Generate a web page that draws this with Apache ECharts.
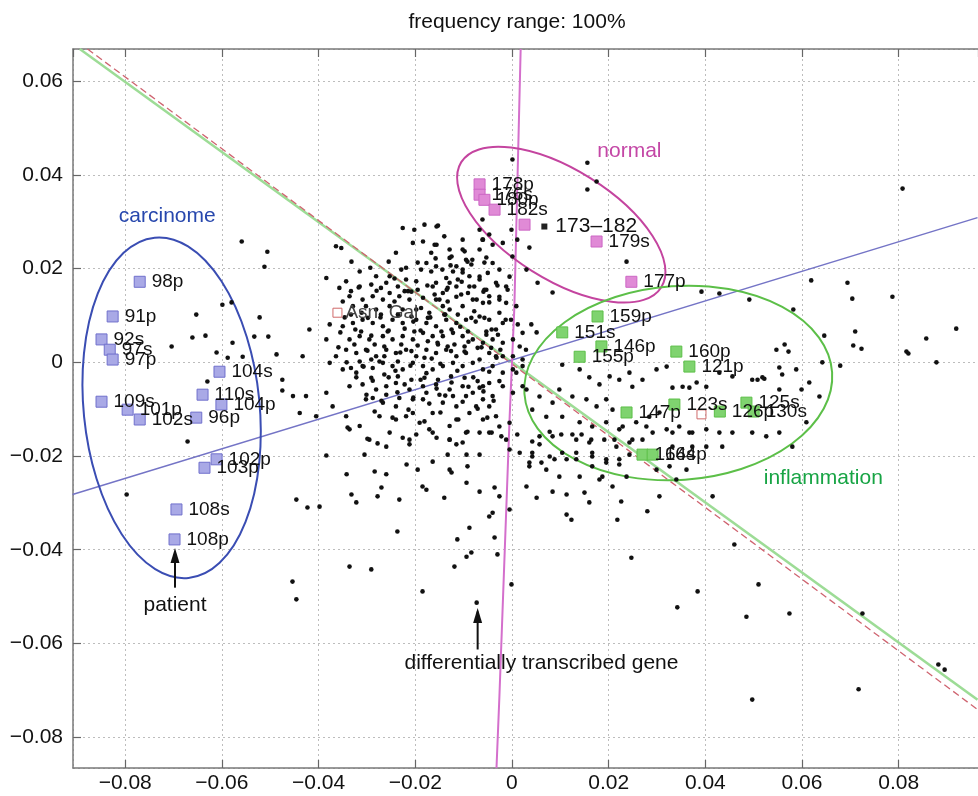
<!DOCTYPE html>
<html><head><meta charset="utf-8">
<script src="https://cdn.jsdelivr.net/npm/echarts@6/dist/echarts.min.js"></script>
<style>html,body{margin:0;padding:0;background:#fff}#c{width:978px;height:796px}</style>
</head><body><div id="c"></div>
<script>
// ---------- axis ranges ----------
const xRange = [-0.0908, 0.0964];
const yRange = [-0.0866, 0.0669];

// ---------- gene dots (black) ----------
const dotsLeft = [[-0.0559,0.0258],[-0.0506,0.0236],[-0.0512,0.0204],[-0.0599,0.0123],[-0.0580,0.0128],[-0.0653,0.0102],[-0.0522,0.0096],[-0.0661,0.0053],[-0.0634,0.0057],[-0.0578,0.0042],[-0.0533,0.0055],[-0.0504,0.0055],[-0.0704,0.0034],[-0.0611,0.0021],[-0.0588,0.0010],[-0.0557,0.0012],[-0.0487,0.0017],[-0.0630,-0.0041],[-0.0475,-0.0037],[-0.0475,-0.0060],[-0.0671,-0.0169],[-0.0797,-0.0282],[-0.0446,-0.0293],[-0.0446,-0.0506],[-0.0454,-0.0468]];

const dotsCloudA = [[-0.0226,0.0287],[-0.0202,0.0283],[-0.0181,0.0294],[-0.0153,0.0292],[-0.0205,0.0255],[-0.0184,0.0258],[-0.0160,0.0251],[-0.0129,0.0241],[-0.0098,0.0237],[-0.0067,0.0241],[-0.0240,0.0234],[-0.0129,0.0223],[-0.0115,0.0205],[-0.0060,0.0262],[-0.0047,0.0273],[-0.0019,0.0255],[-0.0364,0.0248],[-0.0353,0.0244],[-0.0384,0.0180],[-0.0343,0.0173],[-0.0315,0.0194],[-0.0281,0.0184],[-0.0260,0.0170],[-0.0236,0.0162],[-0.0219,0.0177],[-0.0198,0.0173],[-0.0177,0.0212],[-0.0167,0.0194],[-0.0157,0.0170],[-0.0136,0.0180],[-0.0122,0.0194],[-0.0102,0.0198],[-0.0088,0.0184],[-0.0067,0.0177],[-0.0050,0.0191],[-0.0033,0.0170],[-0.0012,0.0162],[-0.0115,0.0162],[-0.0143,0.0148],[-0.0157,0.0134],[-0.0184,0.0138],[-0.0212,0.0134],[-0.0233,0.0141],[-0.0253,0.0148],[-0.0267,0.0134],[-0.0288,0.0141],[-0.0309,0.0134],[-0.0336,0.0141],[-0.0350,0.0130],[-0.0329,0.0120],[-0.0302,0.0120],[-0.0281,0.0113],[-0.0253,0.0120],[-0.0226,0.0113],[-0.0198,0.0113],[-0.0171,0.0106],[-0.0143,0.0120],[-0.0129,0.0113],[-0.0102,0.0120],[-0.0081,0.0134],[-0.0060,0.0127],[-0.0047,0.0141],[-0.0026,0.0106],[-0.0012,0.0127],[0.0009,0.0120],[-0.0019,0.0084],[-0.0033,0.0070],[-0.0047,0.0091],[-0.0067,0.0098],[-0.0095,0.0091],[-0.0115,0.0084],[-0.0136,0.0091],[-0.0157,0.0077],[-0.0177,0.0084],[-0.0198,0.0091],[-0.0226,0.0084],[-0.0247,0.0091],[-0.0267,0.0077],[-0.0288,0.0084],[-0.0309,0.0091],[-0.0329,0.0084],[-0.0350,0.0077],[-0.0377,0.0081],[-0.0384,0.0049],[-0.0419,0.0070],[-0.0433,0.0013],[-0.0336,0.0049],[-0.0315,0.0056],[-0.0295,0.0049],[-0.0267,0.0056],[-0.0247,0.0049],[-0.0226,0.0056],[-0.0205,0.0049],[-0.0184,0.0063],[-0.0164,0.0056],[-0.0143,0.0056],[-0.0122,0.0063],[-0.0102,0.0056],[-0.0081,0.0049],[-0.0060,0.0042],[-0.0040,0.0049],[-0.0019,0.0042],[0.0002,0.0049],[0.0022,0.0063],[0.0029,0.0027],[0.0002,0.0013],[-0.0019,0.0013],[-0.0047,0.0020],[-0.0067,0.0006],[-0.0095,0.0020],[-0.0115,0.0013],[-0.0136,0.0027],[-0.0157,0.0020],[-0.0177,0.0027],[-0.0198,0.0013],[-0.0219,0.0027],[-0.0240,0.0020],[-0.0260,0.0027],[-0.0281,0.0013],[-0.0302,0.0027],[-0.0322,0.0020],[-0.0343,0.0027],[-0.0364,0.0013],[-0.0377,-0.0001],[-0.0350,-0.0015],[-0.0322,-0.0022],[-0.0309,-0.0008],[-0.0288,-0.0012],[-0.0267,-0.0001],[-0.0247,-0.0008],[-0.0226,-0.0015],[-0.0205,-0.0001],[-0.0184,-0.0008],[-0.0164,-0.0015],[-0.0143,-0.0008],[-0.0122,-0.0001],[-0.0102,-0.0008],[-0.0081,-0.0001],[-0.0060,-0.0015],[-0.0040,-0.0008],[-0.0019,-0.0022],[0.0002,-0.0015],[-0.0336,-0.0051],[-0.0309,-0.0047],[-0.0281,-0.0058],[-0.0260,-0.0051],[-0.0240,-0.0044],[-0.0212,-0.0058],[-0.0184,-0.0051],[-0.0157,-0.0047],[-0.0129,-0.0058],[-0.0102,-0.0051],[-0.0081,-0.0065],[-0.0060,-0.0079],[-0.0040,-0.0072],[-0.0019,-0.0051],[0.0002,-0.0065],[0.0022,-0.0051],[-0.0302,-0.0079],[-0.0267,-0.0086],[-0.0240,-0.0094],[-0.0205,-0.0108],[-0.0184,-0.0079],[-0.0143,-0.0086],[-0.0115,-0.0094],[-0.0088,-0.0108],[-0.0060,-0.0122],[-0.0033,-0.0115],[-0.0005,-0.0129],[-0.0315,-0.0136],[-0.0343,-0.0115],[-0.0371,-0.0094],[-0.0405,-0.0115],[-0.0439,-0.0108],[-0.0453,-0.0072],[-0.0426,-0.0072],[-0.0384,-0.0065],[-0.0336,-0.0143],[-0.0295,-0.0165],[-0.0253,-0.0150],[-0.0212,-0.0165],[-0.0171,-0.0143],[-0.0129,-0.0165],[-0.0095,-0.0150],[-0.0047,-0.0150],[-0.0012,-0.0165]];

const dotsCloudB = [[-0.0271,0.0159],[-0.0243,0.0130],[-0.0215,0.0152],[-0.0188,0.0116],[-0.0160,0.0145],[-0.0133,0.0130],[-0.0105,0.0145],[-0.0078,0.0109],[-0.0057,0.0095],[-0.0091,0.0066],[-0.0119,0.0038],[-0.0146,0.0066],[-0.0174,0.0045],[-0.0202,0.0066],[-0.0229,0.0038],[-0.0257,0.0066],[-0.0284,0.0038],[-0.0312,0.0066],[-0.0333,0.0102],[-0.0298,0.0095],[-0.0271,0.0102],[-0.0236,0.0102],[-0.0208,0.0098],[-0.0174,0.0095],[-0.0140,0.0102],[-0.0112,0.0102],[-0.0084,0.0095],[-0.0053,0.0066],[-0.0029,0.0059],[-0.0043,0.0031],[-0.0071,0.0031],[-0.0098,0.0034],[-0.0126,0.0024],[-0.0153,0.0038],[-0.0181,0.0010],[-0.0208,0.0024],[-0.0236,0.0002],[-0.0264,0.0013],[-0.0291,0.0006],[-0.0315,0.0002],[-0.0333,-0.0012],[-0.0291,-0.0033],[-0.0264,-0.0026],[-0.0236,-0.0030],[-0.0208,-0.0037],[-0.0181,-0.0033],[-0.0153,-0.0037],[-0.0126,-0.0030],[-0.0098,-0.0033],[-0.0071,-0.0040],[-0.0047,-0.0044],[-0.0026,-0.0040],[-0.0067,-0.0054],[-0.0095,-0.0072],[-0.0122,-0.0072],[-0.0150,-0.0069],[-0.0177,-0.0065],[-0.0205,-0.0079],[-0.0233,-0.0076],[-0.0260,-0.0069],[-0.0288,-0.0076],[-0.0219,-0.0115],[-0.0164,-0.0108],[-0.0115,-0.0122],[-0.0157,0.0205],[-0.0188,0.0198],[-0.0219,0.0202],[-0.0095,0.0219],[-0.0140,0.0269],[-0.0167,0.0234],[-0.0112,0.0177],[-0.0078,0.0162],[-0.0057,0.0155],[-0.0091,0.0148],[-0.0133,0.0159],[-0.0195,0.0155],[-0.0222,0.0152],[-0.0291,0.0166],[-0.0315,0.0162],[-0.0333,0.0152],[-0.0357,0.0159],[-0.0253,0.0184],[-0.0102,0.0262],[-0.0084,0.0209],[-0.0040,0.0212],[-0.0026,0.0134],[-0.0002,0.0091],[0.0012,0.0081],[0.0016,0.0034],[0.0009,-0.0022],[0.0022,-0.0008],[-0.0060,-0.0051],[-0.0033,0.0013],[-0.0129,-0.0136],[-0.0191,-0.0129],[-0.0240,-0.0122],[-0.0274,-0.0115],[-0.0074,-0.0094],[-0.0047,-0.0094]];

const dotsCore = [[-0.0332,0.0215],[-0.0293,0.0202],[-0.0255,0.0215],[-0.0229,0.0198],[-0.0195,0.0213],[-0.0158,0.0222],[-0.0127,0.0207],[-0.0092,0.0215],[-0.0053,0.0224],[-0.0317,0.0160],[-0.0280,0.0153],[-0.0243,0.0179],[-0.0208,0.0151],[-0.0175,0.0164],[-0.0135,0.0155],[-0.0104,0.0172],[-0.0059,0.0151],[-0.0030,0.0164],[-0.0346,0.0096],[-0.0311,0.0106],[-0.0272,0.0096],[-0.0235,0.0100],[-0.0204,0.0087],[-0.0169,0.0096],[-0.0138,0.0102],[-0.0107,0.0076],[-0.0075,0.0087],[-0.0042,0.0070],[-0.0013,0.0091],[-0.0355,0.0064],[-0.0324,0.0070],[-0.0291,0.0057],[-0.0255,0.0068],[-0.0222,0.0072],[-0.0189,0.0068],[-0.0154,0.0042],[-0.0125,0.0070],[-0.0090,0.0044],[-0.0053,0.0059],[-0.0024,0.0027],[-0.0359,0.0032],[-0.0326,0.0038],[-0.0299,0.0025],[-0.0264,0.0034],[-0.0231,0.0021],[-0.0195,0.0036],[-0.0166,0.0008],[-0.0133,0.0034],[-0.0098,0.0023],[-0.0063,0.0032],[-0.0032,0.0010],[-0.0342,0.0000],[-0.0307,-0.0009],[-0.0274,0.0002],[-0.0241,-0.0018],[-0.0210,-0.0007],[-0.0177,-0.0023],[-0.0148,-0.0003],[-0.0113,-0.0018],[-0.0080,-0.0032],[-0.0047,-0.0020],[-0.0322,-0.0032],[-0.0288,-0.0039],[-0.0255,-0.0032],[-0.0222,-0.0047],[-0.0189,-0.0037],[-0.0156,-0.0056],[-0.0125,-0.0043],[-0.0090,-0.0052],[-0.0059,-0.0062],[-0.0301,-0.0069],[-0.0270,-0.0082],[-0.0237,-0.0064],[-0.0204,-0.0075],[-0.0171,-0.0088],[-0.0138,-0.0071],[-0.0102,-0.0084],[-0.0071,-0.0099],[-0.0038,-0.0082],[-0.0284,-0.0105],[-0.0247,-0.0118],[-0.0214,-0.0101],[-0.0181,-0.0126],[-0.0148,-0.0107],[-0.0111,-0.0122],[-0.0051,-0.0118]];

const dotsLower = [[-0.0340,-0.0139],[-0.0299,-0.0163],[-0.0278,-0.0173],[-0.0260,-0.0180],[-0.0305,-0.0197],[-0.0384,-0.0199],[-0.0226,-0.0161],[-0.0212,-0.0175],[-0.0198,-0.0154],[-0.0164,-0.0150],[-0.0156,-0.0161],[-0.0129,-0.0165],[-0.0115,-0.0175],[-0.0102,-0.0171],[-0.0092,-0.0148],[-0.0067,-0.0150],[-0.0042,-0.0150],[-0.0026,-0.0137],[-0.0022,-0.0158],[-0.0005,-0.0186],[0.0016,-0.0193],[0.0011,-0.0154],[0.0042,-0.0169],[0.0057,-0.0175],[0.0078,-0.0148],[0.0102,-0.0154],[0.0125,-0.0154],[0.0144,-0.0154],[0.0164,-0.0165],[0.0191,-0.0165],[0.0212,-0.0165],[0.0229,-0.0137],[0.0249,-0.0165],[0.0278,-0.0137],[0.0291,-0.0150],[0.0332,-0.0150],[0.0367,-0.0150],[0.0270,-0.0165],[-0.0164,-0.0212],[-0.0133,-0.0197],[-0.0094,-0.0197],[-0.0067,-0.0197],[-0.0092,-0.0222],[-0.0129,-0.0229],[-0.0195,-0.0229],[-0.0218,-0.0218],[-0.0284,-0.0233],[-0.0260,-0.0239],[-0.0342,-0.0239],[0.0042,-0.0201],[0.0036,-0.0214],[0.0061,-0.0214],[0.0088,-0.0207],[0.0113,-0.0207],[0.0133,-0.0193],[0.0166,-0.0193],[0.0166,-0.0222],[0.0195,-0.0207],[0.0222,-0.0218],[0.0243,-0.0197],[-0.0094,-0.0257],[-0.0125,-0.0235],[-0.0036,-0.0267],[-0.0067,-0.0276],[-0.0026,-0.0286],[-0.0177,-0.0272],[-0.0185,-0.0265],[-0.0270,-0.0267],[-0.0278,-0.0286],[-0.0332,-0.0282],[-0.0322,-0.0299],[-0.0233,-0.0293],[-0.0140,-0.0289],[0.0030,-0.0265],[0.0051,-0.0289],[0.0084,-0.0276],[0.0113,-0.0282],[0.0150,-0.0278],[0.0160,-0.0299],[0.0181,-0.0250],[0.0208,-0.0265],[0.0226,-0.0297],[0.0305,-0.0286],[0.0415,-0.0286],[0.0299,-0.0229],[0.0340,-0.0250],[-0.0423,-0.0310],[-0.0398,-0.0308],[-0.0005,-0.0314],[-0.0040,-0.0321],[-0.0047,-0.0329],[0.0113,-0.0325],[0.0123,-0.0336],[0.0218,-0.0336],[0.0280,-0.0318],[-0.0237,-0.0361],[-0.0088,-0.0353],[-0.0113,-0.0378],[-0.0036,-0.0374],[0.0460,-0.0389],[-0.0094,-0.0415],[-0.0084,-0.0406],[-0.0030,-0.0410],[-0.0336,-0.0436],[-0.0291,-0.0442],[-0.0119,-0.0436],[0.0247,-0.0417],[-0.0001,-0.0474],[-0.0185,-0.0489],[0.0384,-0.0489],[0.0342,-0.0523],[0.0485,-0.0543],[-0.0073,-0.0513]];

const dotsRight = [[0.0510,-0.0474],[0.0574,-0.0536],[0.0725,-0.0536],[0.0497,-0.0720],[0.0717,-0.0698],[0.0882,-0.0645],[0.0895,-0.0656],[0.0808,0.0371],[0.0619,0.0175],[0.0694,0.0170],[0.0704,0.0136],[0.0787,0.0140],[0.0392,0.0151],[0.0429,0.0147],[0.0491,0.0134],[0.0582,0.0113],[0.0646,0.0057],[0.0710,0.0066],[0.0706,0.0036],[0.0723,0.0029],[0.0857,0.0051],[0.0919,0.0072],[0.0816,0.0023],[0.0820,0.0019],[0.0878,0.0000],[0.0642,0.0000],[0.0679,-0.0007],[0.0547,0.0027],[0.0564,0.0038],[0.0572,0.0023],[0.0553,-0.0011],[0.0559,-0.0026],[0.0508,-0.0037],[0.0522,-0.0035],[0.0599,-0.0058],[0.0367,-0.0054]];

const dotsUpper = [[0.0001,0.0433],[0.0156,0.0426],[0.0156,0.0369],[0.0175,0.0386],[0.0237,0.0215],[-0.0156,0.0290],[-0.0061,0.0305],[-0.0067,0.0283],[-0.0001,0.0283],[0.0011,0.0262],[0.0036,0.0245],[0.0001,0.0226],[-0.0061,0.0262],[-0.0040,0.0251],[-0.0156,0.0251],[-0.0102,0.0241],[-0.0125,0.0226],[-0.0082,0.0219],[-0.0057,0.0213],[-0.0026,0.0198],[-0.0005,0.0183],[0.0030,0.0198],[0.0053,0.0170],[0.0084,0.0149],[-0.0009,0.0155],[-0.0144,0.0198],[-0.0102,0.0192],[-0.0067,0.0183],[-0.0129,0.0170],[-0.0164,0.0162],[-0.0088,0.0162],[-0.0053,0.0155],[-0.0026,0.0140],[-0.0115,0.0140],[-0.0073,0.0134],[-0.0150,0.0134],[-0.0047,0.0128]];

const dotsInflam = [[0.0040,0.0081],[0.0051,0.0064],[0.0022,0.0006],[0.0104,-0.0005],[0.0140,-0.0015],[0.0160,-0.0032],[0.0181,-0.0047],[0.0202,-0.0030],[0.0222,-0.0037],[0.0243,-0.0022],[0.0249,-0.0052],[0.0270,-0.0037],[0.0299,-0.0015],[0.0320,-0.0009],[0.0332,-0.0054],[0.0353,-0.0052],[0.0382,-0.0043],[0.0402,-0.0052],[0.0429,-0.0022],[0.0456,-0.0030],[0.0497,-0.0037],[0.0518,-0.0032],[0.0588,-0.0015],[0.0615,-0.0043],[0.0553,-0.0058],[0.0098,-0.0058],[0.0125,-0.0073],[0.0154,-0.0079],[0.0175,-0.0094],[0.0195,-0.0079],[0.0208,-0.0101],[0.0084,-0.0086],[0.0057,-0.0073],[0.0030,-0.0058],[0.0042,-0.0101],[0.0071,-0.0116],[0.0104,-0.0116],[0.0140,-0.0128],[0.0166,-0.0137],[0.0195,-0.0128],[0.0222,-0.0143],[0.0257,-0.0128],[0.0284,-0.0116],[0.0305,-0.0107],[0.0320,-0.0143],[0.0346,-0.0137],[0.0373,-0.0150],[0.0402,-0.0143],[0.0429,-0.0150],[0.0456,-0.0150],[0.0497,-0.0150],[0.0526,-0.0158],[0.0553,-0.0150],[0.0580,-0.0180],[0.0609,-0.0128],[0.0636,-0.0073],[0.0057,-0.0158],[0.0084,-0.0158],[0.0133,-0.0165],[0.0160,-0.0171],[0.0216,-0.0180],[0.0243,-0.0171],[0.0042,-0.0193],[0.0078,-0.0201],[0.0104,-0.0193],[0.0133,-0.0207],[0.0166,-0.0201],[0.0195,-0.0214],[0.0222,-0.0207],[0.0332,-0.0180],[0.0373,-0.0180],[0.0402,-0.0180],[0.0435,-0.0180],[0.0036,-0.0222],[0.0071,-0.0229],[0.0098,-0.0244],[0.0140,-0.0244],[0.0187,-0.0244],[0.0237,-0.0244],[0.0326,-0.0222],[0.0361,-0.0229]];

// ---------- labelled samples ----------
const carcinomaSamples = [['98p',-0.0770,0.0172],['91p',-0.0826,0.0098],['92s',-0.0849,0.0049],['97s',-0.0832,0.0027],['97p',-0.0826,0.0006],['104s',-0.0605,-0.0020],['110s',-0.0640,-0.0069],['109s',-0.0849,-0.0084],['101p',-0.0795,-0.0101],['102s',-0.0770,-0.0122],['96p',-0.0653,-0.0118],['104p',-0.0601,-0.0090],['102p',-0.0611,-0.0207],['103p',-0.0636,-0.0225],['108s',-0.0694,-0.0314],['108p',-0.0698,-0.0378]];
const normalSamples = [['178p',-0.0067,0.0380],['176s',-0.0067,0.0358],['180p',-0.0057,0.0347],['182s',-0.0036,0.0326],['',0.0026,0.0294],['179s',0.0175,0.0258],['177p',0.0247,0.0172]];
const inflammationSamples = [['159p',0.0177,0.0098],['151s',0.0104,0.0064],['146p',0.0185,0.0034],['155p',0.0140,0.0012],['160p',0.0340,0.0023],['121p',0.0367,-0.0009],['123s',0.0336,-0.0090],['147p',0.0237,-0.0107],['126p',0.0430,-0.0105],['125s',0.0485,-0.0086],['130s',0.0500,-0.0105],['164s',0.0270,-0.0197],['164p',0.0291,-0.0197]];
const meanMarkers = [['173–182',0.0067,0.0290]];
const highlightGenes = [['Asn  Gal',-0.0361,0.0106],['',0.0392,-0.0111]];

// ---------- reference lines ----------
const greenLine = [[-0.0894,0.0669],[0.0963,-0.0720]];
const redLine = [[-0.0878,0.0669],[0.0963,-0.0741]];
const blueLine = [[-0.0909,-0.0282],[0.0963,0.0309]];
const magentaLine = [[0.0018,0.0669],[0.0005,0.0119],[-0.0005,-0.0122],[-0.0026,-0.0714],[-0.0032,-0.0866]];

// ---------- group ellipses (centre x, centre y, radius x, radius y, rotation deg) ----------
const ellCarcinome = [-0.0704,-0.0097,0.0182,0.0365,-5.7];
const ellNormal = [0.0102,0.0294,0.0244,0.0117,32];
const ellInflam = [0.0344,-0.0044,0.0319,0.0207,-4];

// ---------- annotations ----------
const groupLabels = [['carcinome',-0.0713,0.0313],['normal',0.0243,0.0450],['inflammation',0.0644,-0.0248]];
const noteLabels = [['patient',-0.0697,-0.0519],['differentially transcribed gene',0.0061,-0.0643]];
const arrows = [[-0.0697,-0.0481,-0.0404],[-0.0071,-0.0613,-0.0532]];

// ============ build ============
const FONT = 'Liberation Sans, Arial, Helvetica, sans-serif';
const fmt = v => Math.abs(v) < 1e-9 ? '0' : (v < 0 ? '\u2212' : '') + Math.abs(v).toFixed(2);
const groupColors = {carcinome:'#2747ad', normal:'#c447a6', inflammation:'#17a444'};

function ellipseSeries(e, color){
  return {type:'custom', coordinateSystem:'cartesian2d', silent:true, z:4,
    data:[[e[0], e[1]]],
    renderItem(params, api){
      const c = api.coord([api.value(0), api.value(1)]);
      const s = api.size([e[2], e[3]]);
      const a = s[0], b = s[1], t = e[4]*Math.PI/180;
      const dx = a*Math.cos(t), dy = a*Math.sin(t);
      const p1 = (c[0]-dx)+' '+(c[1]-dy), p2 = (c[0]+dx)+' '+(c[1]+dy);
      const d = 'M '+p1+' A '+a+' '+b+' '+e[4]+' 1 0 '+p2+' A '+a+' '+b+' '+e[4]+' 1 0 '+p1+' Z';
      return {type:'path', shape:{pathData:d}, style:{fill:'none', stroke:color, lineWidth:2}};
    }};
}
function lineSeries(d, color, width, type, z){
  return {type:'line', data:d, showSymbol:false, symbol:'none', silent:true, z:z||3,
    lineStyle:{color:color, width:width, type:type||'solid'}, animation:false};
}
function dotSeries(d){
  return {type:'scatter', data:d, symbol:'circle', symbolSize:4.6, silent:true, z:5,
    itemStyle:{color:'#111', opacity:1}};
}
function sampleSeries(arr, fill, border){
  return {type:'scatter', silent:true, z:6, symbol:'rect', symbolSize:11,
    itemStyle:{color:fill, borderColor:border, borderWidth:1, opacity:1},
    label:{show:true, position:'right', distance:6, formatter:'{b}', color:'#111', fontSize:19, fontFamily:FONT},
    data:arr.map(s => ({name:s[0], value:[s[1], s[2]]}))};
}

const series = [
  lineSeries(greenLine, '#9ddc96', 2.5, 'solid', 2),
  lineSeries(redLine, '#cf6470', 1.3, [7,4], 2),
  lineSeries(blueLine, '#7474c6', 1.5, 'solid', 2),
  lineSeries(magentaLine, '#d46fcc', 2, 'solid', 2),
  dotSeries(dotsLeft), dotSeries(dotsCloudA), dotSeries(dotsCloudB), dotSeries(dotsCore), dotSeries(dotsLower),
  dotSeries(dotsRight), dotSeries(dotsUpper), dotSeries(dotsInflam),
  ellipseSeries(ellCarcinome, '#3a4db3'),
  ellipseSeries(ellNormal, '#c4449f'),
  ellipseSeries(ellInflam, '#5cbf48'),
  sampleSeries(carcinomaSamples, '#a9a9e6', '#7070cc'),
  sampleSeries(normalSamples, '#e08ad6', '#cc66c4'),
  sampleSeries(inflammationSamples, '#7fd36f', '#5cbf48'),
  {type:'scatter', silent:true, z:6, symbol:'rect', symbolSize:6, itemStyle:{color:'#222', opacity:1},
   label:{show:true, position:'right', distance:8, formatter:'{b}', color:'#111', fontSize:21, fontFamily:FONT},
   data:meanMarkers.map(s => ({name:s[0], value:[s[1], s[2]]}))},
  {type:'scatter', silent:true, z:6, symbol:'rect', symbolSize:9,
   itemStyle:{color:'rgba(255,255,255,0)', borderColor:'#d06a6a', borderWidth:1, opacity:1},
   label:{show:true, position:'right', distance:3, formatter:'{b}', color:'#444', fontSize:19, fontFamily:FONT},
   data:highlightGenes.map(s => ({name:s[0], value:[s[1], s[2]]}))},
  {type:'scatter', silent:true, z:7, symbolSize:0, itemStyle:{opacity:1},
   label:{show:true, position:'inside', formatter:'{b}', fontSize:21, fontFamily:FONT},
   data:groupLabels.map(s => ({name:s[0], value:[s[1], s[2]],
     label:{color:groupColors[s[0]]}}))},
  {type:'scatter', silent:true, z:7, symbolSize:0, itemStyle:{opacity:1},
   label:{show:true, position:'inside', formatter:'{b}', fontSize:21, fontFamily:FONT, color:'#111'},
   data:noteLabels.map(s => ({name:s[0], value:[s[1], s[2]]}))}
];
arrows.forEach(a => {
  series.push({type:'line', silent:true, z:7, showSymbol:true,
    lineStyle:{color:'#111', width:2},
    itemStyle:{color:'#111', opacity:1},
    data:[{value:[a[0], a[1]], symbol:'none'},
          {value:[a[0], a[2]], symbol:'triangle', symbolSize:[9,15], symbolOffset:[0,4]}]});
});

const axisLineStyle = {color:'#7a7a7a', width:1.5};
const option = {
  animation:false,
  backgroundColor:'#fff',
  title:{text:'frequency range: 100%', left:512, top:7, textAlign:'center',
    textStyle:{fontSize:21, fontWeight:'normal', color:'#111', fontFamily:FONT}},
  grid:{left:73, right:0, top:49, bottom:28, containLabel:false, outerBoundsMode:'none'},
  xAxis:[{type:'value', min:xRange[0], max:xRange[1], splitNumber:9,
    axisLine:{show:true, onZero:false, lineStyle:axisLineStyle},
    axisTick:{show:true, inside:true, length:8, lineStyle:{color:'#666', width:1.2}},
    axisLabel:{formatter:fmt, fontSize:21, color:'#111', fontFamily:FONT, margin:5, showMinLabel:false, showMaxLabel:false},
    splitLine:{show:true, lineStyle:{type:[2,3], color:'#bdbdbd', width:1}}},
   {type:'value', position:'top', min:xRange[0], max:xRange[1], splitNumber:9,
    axisLine:{show:true, onZero:false, lineStyle:axisLineStyle},
    axisTick:{show:true, inside:true, length:8, lineStyle:{color:'#666', width:1.2}},
    axisLabel:{show:false}, splitLine:{show:false}}],
  yAxis:{type:'value', min:yRange[0], max:yRange[1], splitNumber:8,
    axisLine:{show:true, onZero:false, lineStyle:axisLineStyle},
    axisTick:{show:true, inside:true, length:8, lineStyle:{color:'#666', width:1.2}},
    axisLabel:{formatter:fmt, fontSize:21, color:'#111', fontFamily:FONT, margin:10, showMinLabel:false, showMaxLabel:false},
    splitLine:{show:true, lineStyle:{type:[2,3], color:'#bdbdbd', width:1}}},
  series:series
};
const chart = echarts.init(document.getElementById('c'), null, {renderer:'canvas'});
chart.setOption(option);
</script></body></html>
